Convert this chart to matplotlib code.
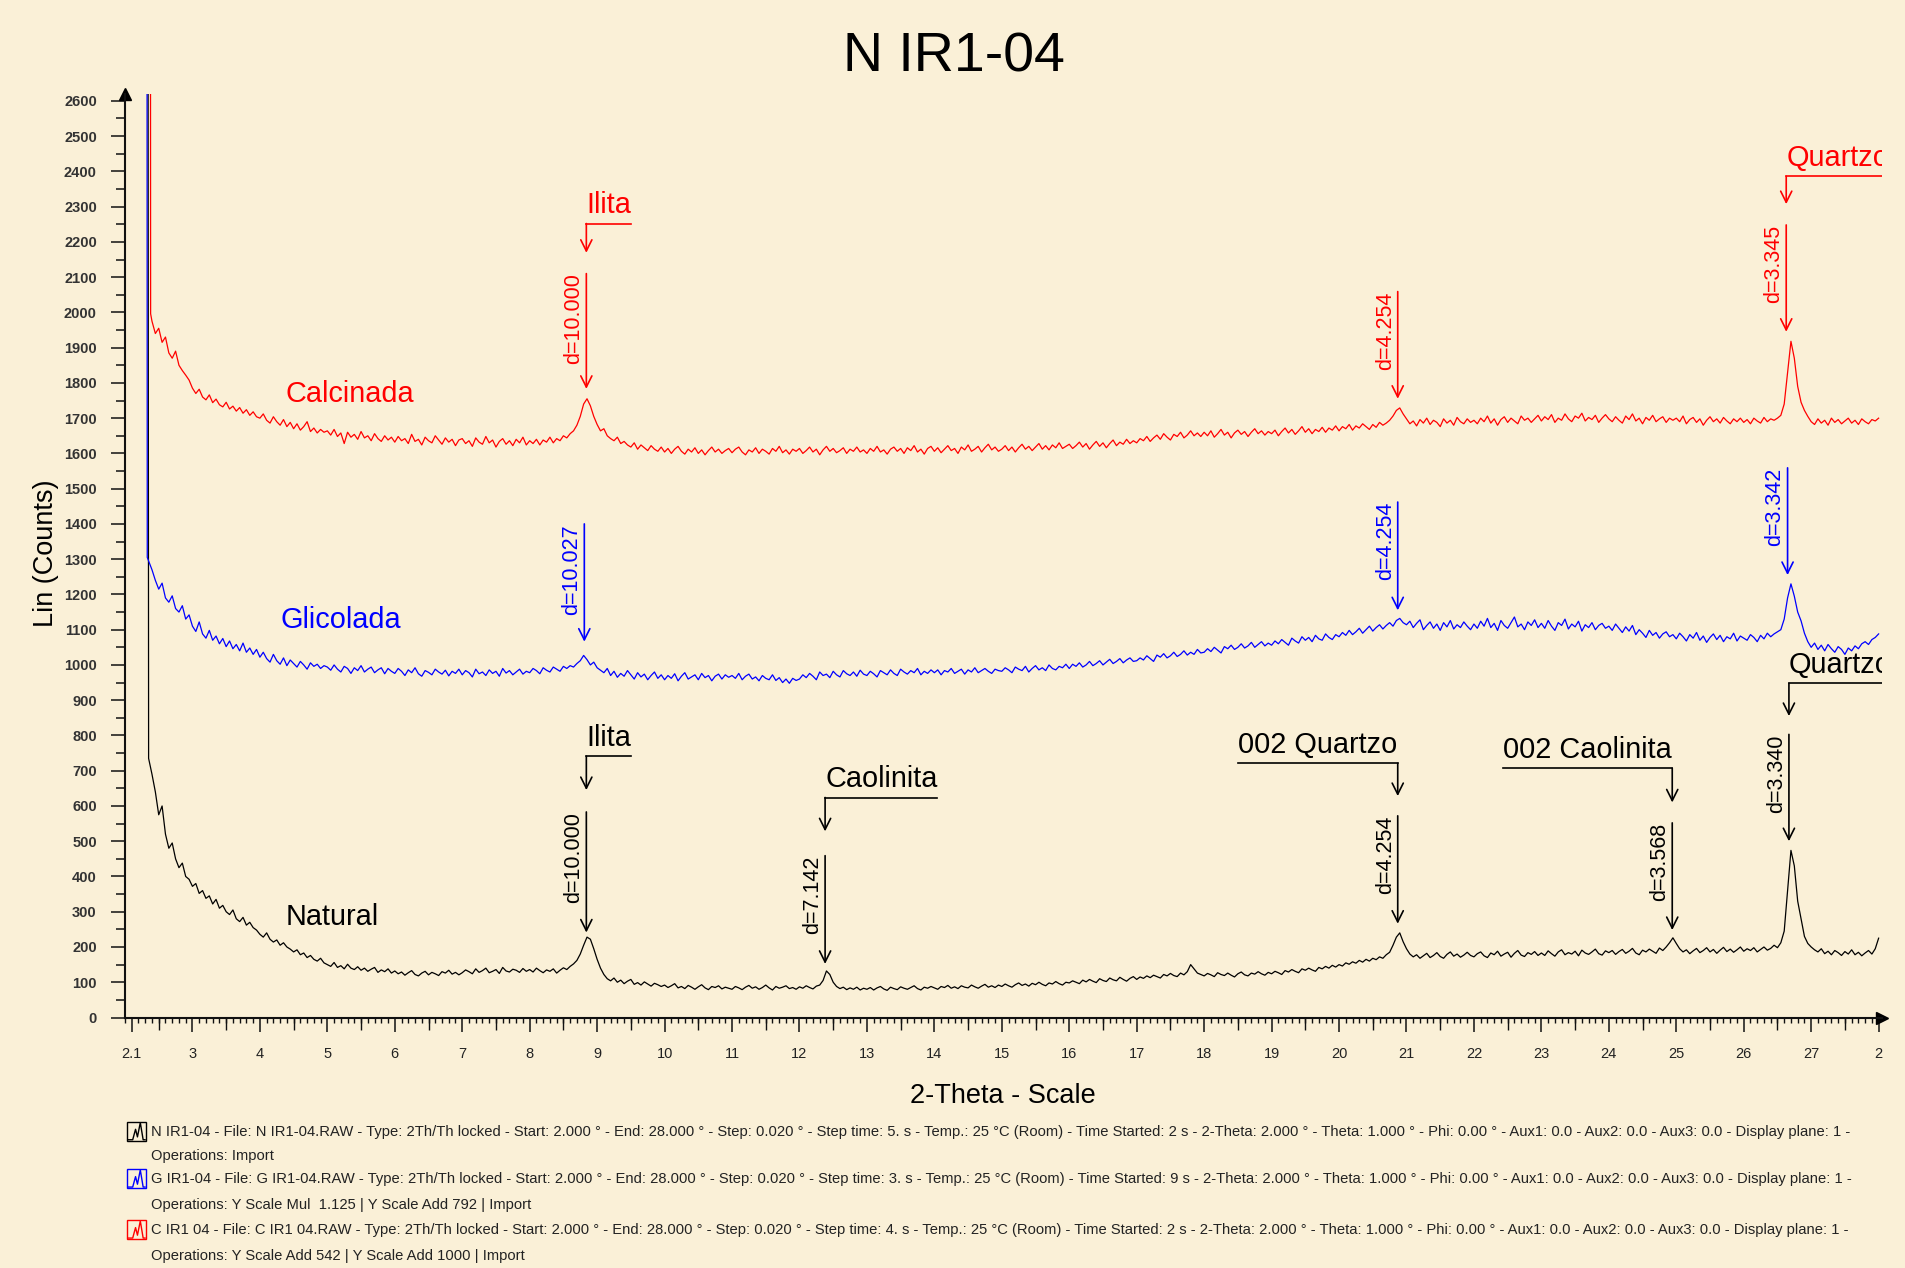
import matplotlib
matplotlib.use("Agg")
import numpy as np
import matplotlib.pyplot as plt
from matplotlib.ticker import MultipleLocator, FixedLocator
from matplotlib.lines import Line2D
from matplotlib.patches import Rectangle

plt.rcParams["font.family"] = ["Liberation Sans", "DejaVu Sans"]

FUNDO = "#FAF0D7"
W, H = 1906, 1268

theta = np.round(np.arange(2.4, 28.0 + 1e-6, 0.05), 2)

# subida inicial (sai da escala)
natural_ini_x = [2.33, 2.35]
natural_ini_y = [6000, 735]
glicolada_ini_x = [2.32, 2.33]
glicolada_ini_y = [6000, 1305]
calcinada_ini_x = [2.37, 2.38]
calcinada_ini_y = [6000, 1996]

# uma linha por grau (2.40-2.95, 3.00-3.95, ..., 27.00-27.95, 28.00)
natural_linhas = [
    [690, 640, 575, 600, 520, 480, 495, 450, 425, 438, 400, 392],
    [372, 380, 352, 360, 338, 345, 322, 335, 310, 318, 300, 292, 305, 280, 272, 284, 262, 270, 255, 248],
    [236, 228, 240, 222, 214, 220, 205, 212, 200, 194, 186, 192, 178, 183, 170, 176, 165, 160, 168, 155],
    [150, 145, 156, 142, 147, 138, 151, 140, 136, 144, 134, 140, 131, 137, 142, 128, 135, 130, 138, 126],
    [132, 124, 129, 120, 127, 133, 122, 118, 126, 131, 121, 128, 124, 119, 130, 126, 134, 123, 128, 121],
    [127, 135, 130, 124, 138, 128, 133, 140, 127, 131, 136, 125, 142, 132, 129, 137, 134, 128, 139, 131],
    [136, 129, 140, 133, 127, 135, 131, 138, 126, 134, 141, 136, 145, 152, 162, 180, 205, 228, 222, 195],
    [165, 140, 122, 110, 104, 112, 100, 106, 96, 103, 108, 94, 99, 92, 101, 95, 89, 97, 93, 88],
    [92, 85, 90, 96, 84, 88, 82, 91, 86, 80, 87, 93, 84, 79, 88, 85, 90, 81, 86, 83],
    [80, 88, 84, 79, 86, 91, 83, 87, 80, 85, 92, 84, 78, 88, 83, 86, 90, 82, 85, 80],
    [87, 83, 90, 85, 81, 89, 92, 105, 132, 122, 100, 88, 82, 86, 79, 84, 80, 86, 78, 83],
    [80, 85, 78, 84, 88, 81, 77, 86, 82, 79, 87, 83, 80, 85, 90, 82, 78, 86, 83, 88],
    [84, 80, 88, 85, 91, 83, 87, 82, 90, 86, 84, 92, 87, 83, 89, 94, 86, 90, 85, 92],
    [88, 95, 90, 86, 93, 98, 91, 95, 89, 97, 93, 100, 94, 90, 98, 95, 102, 96, 92, 100],
    [98, 104, 100, 96, 106, 101, 108, 103, 99, 110, 105, 102, 112, 107, 104, 114, 108, 103, 111, 116],
    [108, 115, 111, 118, 113, 120, 116, 112, 122, 118, 125, 119, 116, 126, 121, 130, 150, 138, 126, 122],
    [118, 125, 121, 116, 127, 122, 119, 126, 120, 115, 124, 129, 121, 118, 126, 123, 130, 124, 120, 128],
    [124, 131, 127, 122, 133, 129, 136, 131, 127, 138, 134, 140, 135, 131, 142, 138, 145, 140, 148, 143],
    [150, 146, 155, 151, 158, 154, 162, 157, 165, 160, 168, 164, 172, 168, 178, 185, 205, 228, 240, 215],
    [195, 180, 172, 178, 168, 175, 182, 170, 176, 184, 173, 168, 179, 186, 174, 180, 171, 177, 185, 176],
    [172, 181, 186, 175, 170, 183, 178, 188, 174, 180, 185, 171, 182, 190, 177, 173, 184, 179, 187, 176],
    [183, 176, 189, 181, 174, 186, 192, 178, 184, 180, 188, 175, 191, 183, 179, 186, 194, 181, 177, 189],
    [184, 190, 179, 187, 193, 182, 188, 196, 183, 178, 191, 186, 194, 188, 182, 197, 190, 200, 212, 226],
    [210, 195, 186, 192, 181, 189, 196, 184, 190, 198, 186, 193, 182, 191, 199, 187, 194, 185, 192, 200],
    [188, 195, 190, 198, 186, 193, 200, 191, 196, 205, 198, 212, 245, 360, 474, 430, 330, 280, 230, 210],
    [200, 192, 186, 195, 181, 188, 178, 190, 184, 176, 187, 180, 192, 178, 185, 175, 183, 190, 180, 195],
    [225],
]

glicolada_linhas = [
    [1270, 1240, 1215, 1232, 1190, 1178, 1196, 1160, 1150, 1168, 1130, 1142],
    [1110, 1095, 1122, 1088, 1076, 1098, 1070, 1082, 1060, 1075, 1052, 1068, 1046, 1058, 1040, 1062, 1036, 1048, 1030, 1044],
    [1022, 1036, 1018, 1008, 1030, 1012, 1002, 1020, 998, 1014, 1004, 994, 1010, 1000, 988, 1006, 996, 1002, 990, 998],
    [994, 985, 1000, 988, 980, 996, 990, 976, 992, 984, 998, 980, 988, 994, 978, 986, 992, 975, 990, 982],
    [976, 990, 982, 970, 986, 978, 992, 975, 968, 984, 979, 972, 988, 980, 974, 985, 969, 982, 976, 988],
    [972, 984, 978, 966, 988, 975, 980, 970, 986, 976, 982, 968, 990, 977, 984, 972, 980, 988, 974, 982],
    [978, 990, 984, 975, 992, 985, 980, 994, 988, 982, 996, 990, 998, 994, 1004, 1012, 1027, 1015, 1000, 1008],
    [992, 985, 978, 990, 970, 982, 965, 976, 968, 984, 972, 960, 978, 966, 974, 958, 970, 980, 962, 972],
    [958, 970, 962, 975, 955, 968, 978, 960, 966, 972, 958, 976, 964, 970, 955, 968, 974, 960, 972, 965],
    [970, 962, 976, 958, 968, 974, 960, 966, 955, 970, 962, 958, 972, 956, 964, 950, 960, 948, 962, 956],
    [960, 972, 964, 976, 968, 958, 980, 970, 974, 964, 982, 972, 966, 984, 975, 970, 980, 968, 985, 974],
    [970, 982, 975, 966, 984, 978, 972, 986, 976, 970, 988, 980, 974, 984, 978, 990, 972, 982, 976, 986],
    [978, 986, 972, 984, 980, 990, 976, 982, 988, 974, 986, 980, 992, 978, 984, 990, 982, 976, 988, 984],
    [982, 992, 986, 978, 994, 988, 984, 996, 980, 990, 998, 986, 992, 984, 1000, 990, 986, 996, 992, 1002],
    [990, 1002, 996, 1006, 994, 1000, 1010, 998, 1004, 1012, 1000, 1008, 1016, 1004, 1010, 1018, 1006, 1014, 1020, 1010],
    [1012, 1020, 1014, 1026, 1018, 1010, 1028, 1022, 1032, 1020, 1026, 1036, 1024, 1030, 1040, 1028, 1036, 1030, 1044, 1034],
    [1036, 1046, 1038, 1050, 1042, 1034, 1052, 1046, 1056, 1044, 1050, 1060, 1048, 1054, 1064, 1050, 1058, 1066, 1054, 1062],
    [1056, 1068, 1060, 1072, 1064, 1056, 1076, 1068, 1062, 1080, 1070, 1078, 1066, 1084, 1074, 1070, 1088, 1078, 1072, 1086],
    [1080, 1092, 1084, 1098, 1086, 1094, 1104, 1090, 1100, 1110, 1096, 1106, 1114, 1102, 1112, 1120, 1110, 1126, 1132, 1120],
    [1114, 1124, 1106, 1118, 1128, 1100, 1112, 1122, 1104, 1116, 1098, 1120, 1108, 1126, 1102, 1114, 1106, 1122, 1110, 1100],
    [1116, 1104, 1124, 1110, 1132, 1106, 1118, 1098, 1126, 1112, 1104, 1120, 1136, 1108, 1116, 1100, 1122, 1112, 1128, 1106],
    [1118, 1104, 1126, 1110, 1098, 1120, 1112, 1130, 1102, 1116, 1108, 1124, 1096, 1114, 1106, 1120, 1100, 1112, 1118, 1104],
    [1110, 1098, 1116, 1104, 1092, 1108, 1096, 1112, 1086, 1100, 1090, 1078, 1098, 1084, 1092, 1076, 1088, 1094, 1080, 1086],
    [1074, 1090, 1080, 1068, 1086, 1076, 1092, 1070, 1082, 1064, 1078, 1088, 1072, 1084, 1066, 1080, 1074, 1090, 1068, 1082],
    [1076, 1070, 1086, 1078, 1066, 1084, 1074, 1090, 1080, 1088, 1094, 1100, 1130, 1190, 1230, 1195, 1150, 1125, 1090, 1066],
    [1050, 1062, 1044, 1056, 1040, 1058, 1046, 1036, 1052, 1044, 1030, 1048, 1040, 1054, 1046, 1060, 1066, 1058, 1072, 1078],
    [1088],
]

calcinada_linhas = [
    [1975, 1940, 1955, 1915, 1930, 1885, 1870, 1890, 1850, 1835, 1822, 1808],
    [1785, 1770, 1782, 1760, 1752, 1766, 1744, 1754, 1738, 1732, 1745, 1726, 1734, 1720, 1730, 1714, 1724, 1708, 1718, 1704],
    [1700, 1712, 1694, 1686, 1704, 1690, 1680, 1696, 1676, 1688, 1670, 1684, 1666, 1676, 1690, 1662, 1672, 1658, 1668, 1660],
    [1664, 1652, 1668, 1648, 1658, 1628, 1660, 1646, 1654, 1640, 1662, 1644, 1650, 1636, 1656, 1642, 1634, 1650, 1638, 1646],
    [1632, 1648, 1636, 1642, 1628, 1654, 1634, 1640, 1624, 1646, 1636, 1630, 1650, 1638, 1626, 1644, 1632, 1640, 1622, 1638],
    [1642, 1628, 1636, 1620, 1644, 1632, 1626, 1648, 1630, 1638, 1618, 1634, 1642, 1626, 1636, 1622, 1640, 1630, 1646, 1624],
    [1636, 1628, 1640, 1624, 1638, 1632, 1646, 1630, 1642, 1636, 1650, 1644, 1656, 1664, 1680, 1705, 1740, 1755, 1735, 1705],
    [1682, 1664, 1670, 1650, 1642, 1636, 1646, 1628, 1634, 1624, 1618, 1630, 1612, 1624, 1616, 1608, 1622, 1612, 1606, 1618],
    [1604, 1614, 1600, 1612, 1620, 1606, 1598, 1612, 1604, 1616, 1600, 1610, 1596, 1608, 1618, 1604, 1612, 1600, 1608, 1614],
    [1602, 1612, 1618, 1604, 1596, 1610, 1604, 1616, 1600, 1612, 1606, 1598, 1614, 1606, 1620, 1602, 1610, 1598, 1612, 1606],
    [1614, 1600, 1608, 1618, 1604, 1612, 1596, 1610, 1620, 1606, 1614, 1602, 1608, 1616, 1600, 1612, 1606, 1618, 1604, 1610],
    [1600, 1614, 1606, 1620, 1604, 1610, 1598, 1612, 1618, 1606, 1614, 1600, 1616, 1608, 1622, 1604, 1612, 1598, 1614, 1620],
    [1606, 1616, 1602, 1612, 1622, 1608, 1614, 1600, 1618, 1610, 1624, 1606, 1612, 1620, 1604, 1616, 1626, 1610, 1618, 1606],
    [1612, 1622, 1608, 1618, 1604, 1616, 1626, 1612, 1620, 1608, 1618, 1628, 1612, 1622, 1610, 1624, 1616, 1630, 1614, 1620],
    [1626, 1614, 1622, 1632, 1618, 1628, 1612, 1624, 1634, 1620, 1630, 1616, 1628, 1638, 1622, 1632, 1626, 1640, 1628, 1636],
    [1630, 1642, 1636, 1648, 1634, 1644, 1652, 1640, 1656, 1646, 1638, 1654, 1648, 1660, 1644, 1652, 1664, 1650, 1658, 1648],
    [1660, 1650, 1664, 1646, 1656, 1668, 1652, 1660, 1644, 1658, 1666, 1654, 1662, 1648, 1660, 1670, 1656, 1664, 1652, 1662],
    [1656, 1666, 1650, 1662, 1672, 1658, 1668, 1654, 1664, 1676, 1660, 1670, 1656, 1668, 1662, 1674, 1660, 1672, 1666, 1678],
    [1664, 1676, 1670, 1682, 1666, 1678, 1672, 1684, 1676, 1668, 1682, 1674, 1688, 1680, 1686, 1694, 1706, 1722, 1729, 1712],
    [1698, 1684, 1692, 1678, 1696, 1686, 1700, 1682, 1694, 1688, 1676, 1698, 1686, 1694, 1680, 1702, 1690, 1684, 1698, 1688],
    [1694, 1684, 1700, 1690, 1706, 1686, 1698, 1680, 1696, 1704, 1688, 1700, 1692, 1684, 1706, 1694, 1700, 1688, 1698, 1708],
    [1692, 1704, 1696, 1710, 1688, 1700, 1694, 1712, 1698, 1690, 1706, 1700, 1714, 1692, 1702, 1696, 1708, 1688, 1700, 1710],
    [1698, 1690, 1704, 1694, 1686, 1706, 1696, 1712, 1692, 1700, 1684, 1702, 1694, 1708, 1690, 1698, 1704, 1688, 1700, 1694],
    [1700, 1690, 1706, 1684, 1696, 1702, 1688, 1698, 1680, 1694, 1704, 1690, 1698, 1686, 1702, 1692, 1684, 1698, 1690, 1700],
    [1688, 1696, 1684, 1700, 1692, 1686, 1702, 1690, 1698, 1694, 1700, 1708, 1740, 1830, 1918, 1870, 1790, 1745, 1722, 1705],
    [1690, 1682, 1698, 1686, 1694, 1680, 1700, 1688, 1696, 1684, 1692, 1700, 1686, 1694, 1682, 1698, 1690, 1684, 1696, 1692],
    [1700],
]

natural = [v for linha in natural_linhas for v in linha]
glicolada = [v for linha in glicolada_linhas for v in linha]
calcinada = [v for linha in calcinada_linhas for v in linha]

# rótulos dos picos: (2-Theta, topo do texto, ponta da seta, texto, cor)
rotulos_d = [
    (8.84, 2110, 1783, "d=10.000", "red"),
    (20.87, 2059, 1755, "d=4.254", "red"),
    (26.63, 2248, 1945, "d=3.345", "red"),
    (8.81, 1400, 1066, "d=10.027", "blue"),
    (20.87, 1462, 1155, "d=4.254", "blue"),
    (26.65, 1559, 1255, "d=3.342", "blue"),
    (8.84, 583, 241, "d=10.000", "black"),
    (12.38, 459, 152, "d=7.142", "black"),
    (20.87, 572, 266, "d=4.254", "black"),
    (24.94, 552, 248, "d=3.568", "black"),
    (26.67, 803, 500, "d=3.340", "black"),
]

# fases: (2-Theta, linha sob o texto, ponta da seta, texto, cor, lado do texto)
fases = [
    (8.84, 2252, 2169, "Ilita", "red", "dir"),
    (26.63, 2386, 2307, "Quartzo", "red", "dir"),
    (8.84, 741, 645, "Ilita", "black", "dir"),
    (12.38, 624, 528, "Caolinita", "black", "dir"),
    (20.87, 721, 628, "002 Quartzo", "black", "esq"),
    (24.94, 707, 610, "002 Caolinita", "black", "esq"),
    (26.67, 948, 855, "Quartzo", "black", "dir"),
]

amostras = [
    (4.38, 1769, "Calcinada", "red"),
    (4.31, 1128, "Glicolada", "blue"),
    (4.38, 286, "Natural", "black"),
]

x_ticks = [2.1] + list(range(3, 29))
x_tick_labels = ["2.1"] + [str(v) for v in range(3, 28)] + ["2"]
y_ticks = list(range(0, 2601, 100))

legenda = [
    ("black",
     "N IR1-04 - File: N IR1-04.RAW - Type: 2Th/Th locked - Start: 2.000 ° - End: 28.000 ° - Step: 0.020 ° - Step time: 5. s - Temp.: 25 °C (Room) - Time Started: 2 s - 2-Theta: 2.000 ° - Theta: 1.000 ° - Phi: 0.00 ° - Aux1: 0.0 - Aux2: 0.0 - Aux3: 0.0 - Display plane: 1 -",
     "Operations: Import"),
    ("blue",
     "G IR1-04 - File: G IR1-04.RAW - Type: 2Th/Th locked - Start: 2.000 ° - End: 28.000 ° - Step: 0.020 ° - Step time: 3. s - Temp.: 25 °C (Room) - Time Started: 9 s - 2-Theta: 2.000 ° - Theta: 1.000 ° - Phi: 0.00 ° - Aux1: 0.0 - Aux2: 0.0 - Aux3: 0.0 - Display plane: 1 -",
     "Operations: Y Scale Mul  1.125 | Y Scale Add 792 | Import"),
    ("red",
     "C IR1 04 - File: C IR1 04.RAW - Type: 2Th/Th locked - Start: 2.000 ° - End: 28.000 ° - Step: 0.020 ° - Step time: 4. s - Temp.: 25 °C (Room) - Time Started: 2 s - 2-Theta: 2.000 ° - Theta: 1.000 ° - Phi: 0.00 ° - Aux1: 0.0 - Aux2: 0.0 - Aux3: 0.0 - Display plane: 1 -",
     "Operations: Y Scale Add 542 | Y Scale Add 1000 | Import"),
]

assert len(natural) == len(theta) == len(glicolada) == len(calcinada)


def px(x, y):
    return x / W, 1 - y / H


fig = plt.figure(figsize=(W / 100, H / 100), dpi=100, facecolor=FUNDO)
ax = fig.add_axes([125 / W, 1 - 1017.5 / H, 1757 / W, 923.7 / H])
ax.set_facecolor(FUNDO)

ax.plot(natural_ini_x + list(theta), natural_ini_y + natural, color="black", lw=0.9)
ax.plot(glicolada_ini_x + list(theta), glicolada_ini_y + glicolada, color="blue", lw=0.9)
ax.plot(calcinada_ini_x + list(theta), calcinada_ini_y + calcinada, color="red", lw=0.9)

ax.set_xlim(2.0, 28.05)
ax.set_ylim(0, 2620)

# eixos
for lado in ["top", "right"]:
    ax.spines[lado].set_visible(False)
for lado in ["left", "bottom"]:
    ax.spines[lado].set_linewidth(1.5)
    ax.spines[lado].set_color("#111111")

ax.xaxis.set_major_locator(FixedLocator(x_ticks))
ax.set_xticklabels(x_tick_labels)
ax.xaxis.set_minor_locator(MultipleLocator(0.1))
ax.set_yticks(y_ticks)
ax.set_yticklabels([str(v) for v in y_ticks], fontweight="bold")
ax.yaxis.set_minor_locator(MultipleLocator(50))

ax.tick_params(axis="x", which="major", length=10, width=1.1, pad=11,
               labelsize=10.5, color="#111111", labelcolor="#222222")
ax.tick_params(axis="x", which="minor", length=3.6, width=1.0, color="#111111")
ax.tick_params(axis="y", which="major", length=10.3, width=1.1, pad=10,
               labelsize=10.5, color="#111111", labelcolor="#333333")
ax.tick_params(axis="y", which="minor", length=6.7, width=1.1, color="#111111")

# marcas intermediárias (meio grau)
ax_m = ax.twiny()
ax_m.set_xlim(ax.get_xlim())
ax_m.xaxis.tick_bottom()
ax_m.xaxis.set_major_locator(MultipleLocator(1, offset=0.5))
ax_m.tick_params(axis="x", length=8.4, width=1.0, color="#111111",
                 labelbottom=False, labeltop=False)
for s in ax_m.spines.values():
    s.set_visible(False)

# setas nas pontas dos eixos
ax.plot(0, 1.0, marker="^", ms=8, color="black", transform=ax.transAxes, clip_on=False)
ax.plot(1.0, 0, marker=">", ms=8, color="black", transform=ax.transAxes, clip_on=False)

renderer = fig.canvas.get_renderer()
inv = ax.transData.inverted()
seta = dict(arrowstyle="->", lw=1.2, shrinkA=0, shrinkB=0, mutation_scale=20)

for x, y_topo, y_seta, texto, cor in rotulos_d:
    ax.annotate("", xy=(x, y_seta), xytext=(x, y_topo), arrowprops=dict(seta, color=cor))
    ax.annotate(texto, xy=(x, y_topo), xytext=(-1.5, 0), textcoords="offset points",
                rotation=90, ha="right", va="top", color=cor, fontsize=15.5)

for x, y_linha, y_seta, texto, cor, lado in fases:
    ha = "left" if lado == "dir" else "right"
    t = ax.annotate(texto, xy=(x, y_linha), xytext=(0, 3), textcoords="offset points",
                    ha=ha, va="bottom", color=cor, fontsize=20.8, clip_on=True)
    bb = t.get_window_extent(renderer)
    x0 = inv.transform((bb.x0, 0))[0]
    x1 = inv.transform((bb.x1, 0))[0]
    if lado == "dir":
        ax.plot([x, x1], [y_linha, y_linha], color=cor, lw=1.2)
    else:
        ax.plot([x0, x], [y_linha, y_linha], color=cor, lw=1.2)
    ax.annotate("", xy=(x, y_seta), xytext=(x, y_linha), arrowprops=dict(seta, color=cor))

for x, y, texto, cor in amostras:
    ax.text(x, y, texto, color=cor, fontsize=20.8, ha="left", va="center")

# textos da figura
fig.text(*px(954, 57), "N IR1-04", fontsize=40, ha="center", va="center")
fig.text(*px(46, 553), "Lin (Counts)", fontsize=19.5, rotation=90, ha="center", va="center")
fig.text(*px(1003, 1096), "2-Theta - Scale", fontsize=19.5, ha="center", va="center")

# legenda do arquivo (ajusta a fonte para a largura da linha)
teste = fig.text(0, 0, legenda[0][1], fontsize=10)
fs = 10 * 1692 / teste.get_window_extent(renderer).width
teste.remove()

linhas_y = [(1131.7, 1156), (1179, 1204.6), (1230, 1255.7)]
for (cor, l1, l2), (y1, y2) in zip(legenda, linhas_y):
    fig.text(*px(150.7, y1), l1, fontsize=fs, ha="left", va="center", color="#222222")
    fig.text(*px(150.7, y2), l2, fontsize=fs, ha="left", va="center", color="#222222")
    x0, yb = px(127, y1 + 9)
    fig.add_artist(Rectangle((x0, yb), 19 / W, 19 / H, fill=False, edgecolor=cor,
                             lw=1.0, transform=fig.transFigure))
    zx = [0.05, 0.3, 0.45, 0.55, 0.7, 0.85, 0.95]
    zy = [0.05, 0.05, 0.6, 0.2, 0.95, 0.05, 0.05]
    fig.add_artist(Line2D([x0 + v * 19 / W for v in zx], [yb + v * 19 / H for v in zy],
                          color=cor, lw=1.0, transform=fig.transFigure))

fig.savefig("out.png", dpi=100, facecolor=FUNDO)
